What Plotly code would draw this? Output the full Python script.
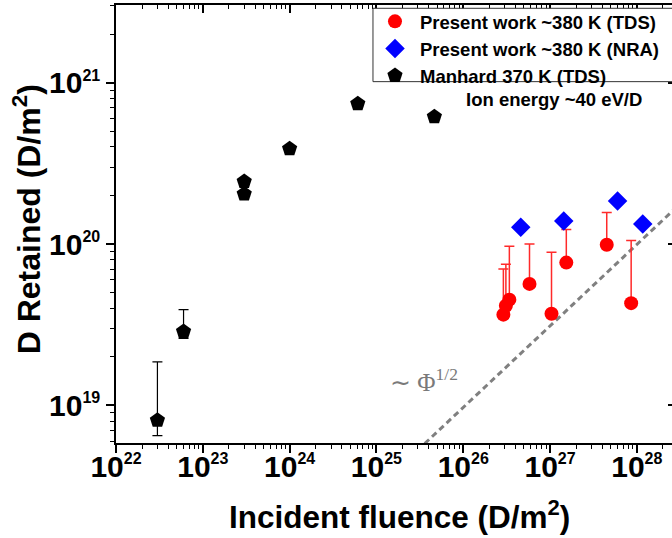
import plotly.graph_objects as go

# ---------------- data ----------------
# Manhard 370 K (TDS)
manhard_x = [3.0e22, 6.0e22, 3.0e23, 3.0e23, 1.0e24, 6.1e24, 4.65e25]
manhard_y = [8.1e18, 2.87e19, 2.44e20, 2.04e20, 3.89e20, 7.4e20, 6.15e20]
manhard_upper = [1.86e19, 3.92e19, None, None, None, None, None]
manhard_lower = [6.5e18, 2.6e19, None, None, None, None, None]

# Present work ~380 K (TDS)
tds_x = [2.9e26, 3.1e26, 3.4e26, 5.8e26, 1.04e27, 1.54e27, 4.5e27, 8.6e27]
tds_y = [3.65e19, 4.14e19, 4.52e19, 5.66e19, 3.7e19, 7.67e19, 9.9e19, 4.3e19]
tds_upper = [7.0e19, 7.5e19, 9.7e19, 1.0e20, 8.9e19, 1.23e20, 1.57e20, 1.05e20]

# Present work ~380 K (NRA)
nra_x = [4.6e26, 1.44e27, 6.0e27, 1.17e28]
nra_y = [1.27e20, 1.39e20, 1.85e20, 1.33e20]

# ~Phi^(1/2) guide line (end points)
trend_x = [3.6e25, 3.0e28]
trend_y = [5.8e18, 1.73e20]

x_decades = [22, 23, 24, 25, 26, 27, 28]
y_decades = [19, 20, 21]
x_ticktext = ["10<sup><span style='font-size:16px'>%d</span></sup>" % e for e in x_decades]
y_ticktext = ["10<sup><span style='font-size:16px'>%d</span></sup>" % e for e in y_decades]

# ---------------- derived ----------------
man_plus = [(u - y) if u is not None else 0 for u, y in zip(manhard_upper, manhard_y)]
man_minus = [(y - l) if l is not None else 0 for l, y in zip(manhard_lower, manhard_y)]
tds_plus = [u - y for u, y in zip(tds_upper, tds_y)]
tds_minus = [0 for _ in tds_y]

x_tickvals = [10.0 ** e for e in x_decades]
y_tickvals = [10.0 ** e for e in y_decades]
x_minor = [m * 10.0 ** e for e in range(21, 29) for m in range(2, 10)]
y_minor = [m * 10.0 ** e for e in range(18, 22) for m in range(2, 10)]

FONT = "Liberation Sans, Arial, sans-serif"
XR = [22, 28.405]
YR = [18.767, 21.481]

fig = go.Figure()

fig.add_trace(go.Scatter(
    x=trend_x, y=trend_y, mode="lines", showlegend=False, hoverinfo="skip",
    line=dict(color="#808080", width=3, dash="6px,4px")))

fig.add_trace(go.Scatter(
    x=manhard_x, y=manhard_y, mode="markers", name="Manhard 370 K (TDS)",
    legendrank=3,
    marker=dict(symbol="pentagon", size=16, color="black"),
    error_y=dict(type="data", symmetric=False, array=man_plus, arrayminus=man_minus,
                 color="black", thickness=1.2, width=5)))

fig.add_trace(go.Scatter(
    x=tds_x, y=tds_y, mode="markers", name="Present work ~380 K (TDS)",
    legendrank=1,
    marker=dict(symbol="circle", size=14, color="#ff0000"),
    error_y=dict(type="data", symmetric=False, array=tds_plus, arrayminus=tds_minus,
                 color="#ff2a2a", thickness=1.5, width=5)))

fig.add_trace(go.Scatter(
    x=nra_x, y=nra_y, mode="markers", name="Present work ~380 K (NRA)",
    legendrank=2,
    marker=dict(symbol="diamond", size=15, color="#0000ff")))

# dummy trace to host top / right mirror axes
fig.add_trace(go.Scatter(x=[], y=[], xaxis="x2", yaxis="y2", showlegend=False,
                         hoverinfo="skip"))

tickfont = dict(family=FONT, size=30, color="black", weight="bold")

fig.update_layout(
    width=672, height=538,
    margin=dict(l=116, r=0, t=5, b=95),
    paper_bgcolor="white", plot_bgcolor="white",
    showlegend=True,
    xaxis=dict(type="log", range=XR, showgrid=False, zeroline=False,
               showline=True, linecolor="black", linewidth=1.5,
               ticks="outside", ticklen=8, tickwidth=1.5, tickcolor="black",
               tickmode="array", tickvals=x_tickvals, ticktext=x_ticktext,
               tickfont=tickfont, ticklabelstandoff=-12,
               minor=dict(tickmode="array", tickvals=x_minor, ticks="outside",
                          ticklen=4, tickwidth=1.2, tickcolor="black", showgrid=False)),
    yaxis=dict(type="log", range=YR, showgrid=False, zeroline=False,
               showline=True, linecolor="black", linewidth=1.5,
               ticks="outside", ticklen=8, tickwidth=1.5, tickcolor="black",
               tickmode="array", tickvals=y_tickvals, ticktext=y_ticktext,
               tickfont=tickfont,
               minor=dict(tickmode="array", tickvals=y_minor, ticks="outside",
                          ticklen=4, tickwidth=1.2, tickcolor="black", showgrid=False)),
    xaxis2=dict(type="log", range=XR, overlaying="x", side="top", anchor="y2",
                showgrid=False, zeroline=False, showline=True, linecolor="black",
                linewidth=1.5, ticks="inside", ticklen=8, tickwidth=1.5,
                tickcolor="black", tickmode="array", tickvals=x_tickvals,
                showticklabels=False,
                minor=dict(tickmode="array", tickvals=x_minor, ticks="inside",
                           ticklen=4, tickwidth=1.2, tickcolor="black", showgrid=False)),
    yaxis2=dict(type="log", range=YR, overlaying="y", side="right", anchor="x2",
                showgrid=False, zeroline=False, showline=False,
                ticks="inside", ticklen=4, tickwidth=1.5, tickcolor="black",
                tickmode="array", tickvals=y_tickvals, showticklabels=False),
    legend=dict(x=0.4568, y=1.005, xanchor="left", yanchor="top",
                bgcolor="rgba(0,0,0,0)", borderwidth=0,
                itemwidth=40, tracegroupgap=0,
                font=dict(family=FONT, size=18.5, color="black", weight="bold")),
    shapes=[
        dict(type="rect", xref="paper", yref="paper", x0=0.4622, x1=1.05,
             y0=0.825, y1=0.9925, line=dict(color="#333333", width=1),
             fillcolor="white", layer="above"),
    ],
    annotations=[
        dict(text="Incident fluence (D/m<sup>2</sup>)", xref="paper", yref="paper",
             x=0.509, y=-0.1636, xanchor="center", yanchor="middle", showarrow=False,
             font=dict(family=FONT, size=31.5, color="black", weight="bold")),
        dict(text="D Retained (D/m<sup>2</sup>)", xref="paper", yref="paper",
             x=-0.161, y=0.5117, xanchor="center", yanchor="middle", showarrow=False,
             textangle=-90,
             font=dict(family=FONT, size=32, color="black", weight="bold")),
        dict(text="Ion energy ~40 eV/D", xref="paper", yref="paper",
             x=0.787, y=0.7833, xanchor="center", yanchor="middle", showarrow=False,
             font=dict(family=FONT, size=18.5, color="black", weight="bold")),
        dict(text="\u223c \u03a6<sup>1/2</sup>", xref="paper", yref="paper",
             x=0.554, y=0.144, xanchor="center", yanchor="middle", showarrow=False,
             font=dict(family="Liberation Serif, Times New Roman, serif", size=25,
                       color="#7a7a7a")),
    ],
)

fig.write_html("out.html", config={"displayModeBar": False},
               post_script="document.body.style.margin='0';")
